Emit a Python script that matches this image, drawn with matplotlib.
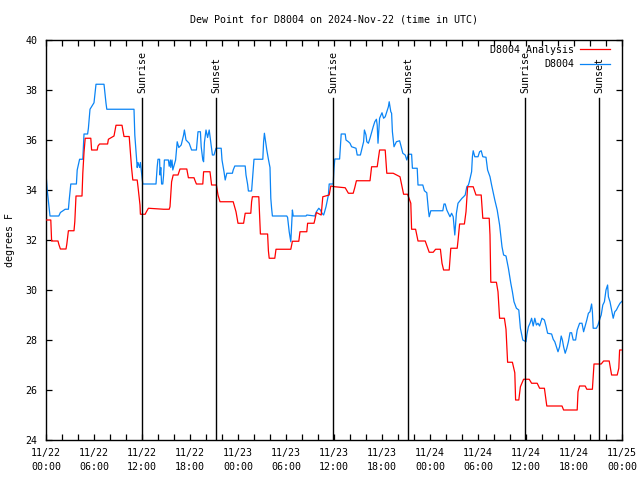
import numpy as np
import matplotlib.pyplot as plt
from matplotlib.ticker import MultipleLocator
import matplotlib.transforms as mtransforms

# Time in hours since 2024-11-22 00:00 UTC, dew point in deg F
analysis_hours = [0.0, 0.6, 0.7, 1.5, 1.6, 1.8, 2.5, 2.6, 2.8, 3.5, 3.6, 3.75, 4.5, 4.6, 4.75, 4.9,
                  5.6, 5.7, 6.4, 6.5, 6.7, 7.7, 7.8, 8.5, 8.75, 9.5, 9.6, 9.75, 10.4, 10.5, 10.7, 10.85,
                  11.4, 11.5, 11.75, 11.8, 12.4, 12.5, 12.8, 14.7, 15.4, 15.5, 15.7, 15.9, 16.5, 16.75,
                  17.6, 17.8, 18.5, 18.6, 18.8, 19.6, 19.7, 20.5, 20.7, 21.3, 21.5, 21.75, 23.4, 23.75,
                  24.0, 24.7, 24.9, 25.6, 25.7, 25.8, 26.6, 26.75, 26.8, 27.7, 27.8, 27.9, 28.6, 28.75,
                  30.6, 30.8, 31.6, 31.75, 32.6, 32.7, 33.5, 33.6, 33.8, 34.4, 34.6, 35.4, 35.6, 36.1,
                  37.4, 37.8, 38.4, 38.6, 38.8, 40.5, 40.7, 41.4, 41.7, 42.4, 42.6, 43.4, 44.25, 44.6,
                  44.7, 45.2, 45.6, 45.7, 46.2, 46.5, 47.4, 47.7, 47.9, 48.4, 48.7, 49.3, 49.5, 49.7,
                  50.4, 50.6, 51.4, 51.5, 51.7, 52.3, 52.5, 52.7, 53.4, 53.75, 54.4, 54.6, 55.4, 55.5,
                  55.6, 56.3, 56.5, 56.7, 57.3, 57.5, 57.7, 58.3, 58.6, 58.7, 59.1, 59.3, 59.7, 60.4,
                  60.7, 61.4, 61.7, 62.3, 62.6, 64.5, 64.7, 66.4, 66.5, 66.7, 67.4, 67.6, 68.3, 68.5,
                  69.4, 69.7, 70.4, 70.7, 71.4, 71.6, 71.7, 72.0]
analysis_dewpt = [32.8, 32.8, 31.96, 31.96, 31.83, 31.64, 31.64, 31.83, 32.37, 32.37, 32.73, 33.76, 33.76, 34.67, 35.5, 36.07,
                  36.07, 35.6, 35.6, 35.76, 35.84, 35.84, 36.03, 36.16, 36.59, 36.59, 36.4, 36.14, 36.14, 35.71, 34.87, 34.4,
                  34.4, 34.13, 33.4, 33.03, 33.03, 33.1, 33.27, 33.23, 33.23, 33.33, 34.33, 34.6, 34.6, 34.84,
                  34.84, 34.49, 34.49, 34.4, 34.24, 34.24, 34.73, 34.73, 34.2, 34.2, 33.8, 33.53, 33.53, 33.13,
                  32.67, 32.67, 33.07, 33.07, 33.53, 33.73, 33.73, 32.6, 32.24, 32.24, 31.57, 31.27, 31.27, 31.63,
                  31.63, 31.95, 31.95, 32.33, 32.33, 32.67, 32.67, 32.8, 33.1, 33.0, 33.73, 33.8, 34.16, 34.13,
                  34.09, 33.87, 33.87, 34.1, 34.37, 34.37, 34.93, 34.93, 35.6, 35.6, 34.67, 34.67, 34.53, 34.0,
                  33.83, 33.83, 33.47, 32.43, 32.43, 31.96, 31.96, 31.69, 31.51, 31.51, 31.63, 31.63, 31.07, 30.8,
                  30.8, 31.67, 31.67, 31.97, 32.64, 32.64, 33.13, 34.13, 34.13, 33.8, 33.8, 32.87, 32.87, 32.2,
                  30.31, 30.31, 29.93, 28.87, 28.87, 28.43, 27.11, 27.11, 26.69, 25.6, 25.6, 26.13, 26.43, 26.43,
                  26.27, 26.27, 26.07, 26.07, 25.36, 25.36, 25.2, 25.2, 25.93, 26.16, 26.16, 26.03, 26.03, 27.04,
                  27.04, 27.16, 27.16, 26.6, 26.6, 26.87, 27.6, 27.6]

station_hours = [0.0, 0.15, 0.5, 1.6, 1.8, 2.4, 2.8, 2.9, 3.1, 3.8, 3.9, 4.2, 4.6, 4.75, 5.2, 5.3, 5.5, 6.0, 6.25,
                 7.25, 7.5, 7.6, 11.0, 11.1, 11.3, 11.4, 11.5, 11.7, 11.8, 12.0, 12.1, 13.75, 13.9, 14.0, 14.2,
                 14.25, 14.35, 14.45, 14.6, 14.7, 14.8, 15.3, 15.4, 15.55, 15.6, 15.75, 15.85, 16.2, 16.4, 16.6,
                 16.9, 17.2, 17.3, 17.5, 17.9, 18.2, 18.8, 19.0, 19.3, 19.4, 19.6, 19.7, 19.8, 20.0, 20.2, 20.4,
                 20.6, 20.8, 21.0, 21.25, 21.9, 22.0, 22.25, 22.4, 22.6, 23.3, 23.4, 23.6, 24.9, 25.0, 25.2, 25.3,
                 25.7, 25.85, 26.0, 27.1, 27.2, 27.3, 27.45, 27.6, 27.8, 28.0, 28.1, 28.2, 28.3, 30.1, 30.2, 30.4,
                 30.6, 30.7, 30.8, 30.9, 32.5, 32.6, 33.6, 33.8, 34.1, 34.3, 34.5, 34.7, 34.8, 35.0, 35.3, 35.4,
                 35.9, 36.0, 36.1, 36.7, 36.8, 36.9, 37.4, 37.5, 37.8, 38.0, 38.2, 38.75, 38.9, 39.3, 39.5, 39.7,
                 39.8, 40.0, 40.1, 40.3, 40.5, 40.9, 41.1, 41.3, 41.4, 41.5, 41.7, 42.0, 42.2, 42.4, 42.6, 42.8,
                 42.9, 43.1, 43.2, 43.3, 43.5, 43.8, 44.2, 44.4, 44.6, 44.9, 45.1, 45.3, 45.7, 45.8, 46.4, 46.5,
                 47.1, 47.3, 47.6, 47.8, 47.9, 48.1, 49.6, 49.75, 49.9, 50.1, 50.3, 50.5, 50.7, 50.9, 51.1, 51.3,
                 51.5, 52.0, 52.2, 52.4, 52.6, 52.8, 52.9, 53.2, 53.3, 53.4, 53.6, 54.0, 54.2, 54.4, 54.6, 55.0,
                 55.2, 55.5, 55.7, 56.1, 56.4, 56.7, 57.0, 57.2, 57.5, 57.8, 58.1, 58.3, 58.5, 58.8, 59.1, 59.3,
                 59.6, 60.0, 60.1, 60.3, 60.5, 60.7, 60.9, 61.1, 61.3, 61.5, 61.7, 62.0, 62.3, 62.5, 62.7, 63.2,
                 63.4, 63.6, 63.8, 64.0, 64.2, 64.4, 64.55, 64.7, 64.9, 65.1, 65.3, 65.5, 65.7, 65.9, 66.2, 66.4,
                 66.7, 67.0, 67.2, 67.4, 67.6, 67.8, 68.0, 68.2, 68.3, 68.4, 68.8, 69.0, 69.25, 69.4, 69.6, 69.8,
                 70.0, 70.2, 70.3, 70.5, 70.7, 70.9, 71.1, 71.3, 71.5, 71.75, 72.0]
station_dewpt = [34.67, 34.0, 32.96, 32.96, 33.1, 33.23, 33.23, 33.6, 34.24, 34.24, 34.8, 35.23, 35.23, 36.24, 36.24, 36.47, 37.23, 37.49, 38.23,
                 38.23, 37.47, 37.23, 37.23, 36.2, 35.33, 34.9, 35.1, 34.9, 35.1, 34.5, 34.24, 34.24, 34.93, 35.23, 35.23,
                 34.6, 34.9, 34.24, 34.24, 34.6, 35.2, 35.2, 34.95, 35.2, 34.9, 35.2, 34.8, 35.2, 35.93, 35.7,
                 35.8, 36.2, 36.4, 36.0, 35.87, 35.6, 35.6, 36.33, 36.33, 35.73, 35.2, 35.13, 35.9, 36.4, 36.1, 36.4,
                 35.9, 35.4, 35.4, 35.67, 35.67, 35.2, 34.73, 34.4, 34.67, 34.67, 34.8, 34.96, 34.96, 34.6, 34.23, 33.96,
                 33.96, 34.6, 35.23, 35.23, 35.93, 36.27, 35.93, 35.6, 35.23, 34.9, 33.67, 33.27, 32.96, 32.96, 32.9, 32.33,
                 31.93, 32.6, 33.2, 32.96, 32.96, 33.0, 32.96, 33.13, 33.27, 33.2, 33.07, 33.0, 33.1, 33.33, 33.8, 34.24,
                 34.24, 34.87, 35.24, 35.24, 35.73, 36.24, 36.24, 36.0, 35.93, 35.87, 35.73, 35.67, 35.4, 35.4, 35.67, 35.93,
                 36.4, 36.2, 35.93, 35.87, 36.07, 36.53, 36.73, 36.83, 36.6, 35.87, 36.87, 37.09, 36.87, 36.93, 37.13, 37.33,
                 37.53, 37.13, 37.07, 36.33, 35.73, 35.93, 35.97, 35.73, 35.47, 35.4, 35.2, 35.43, 35.43, 34.87, 34.87, 34.2,
                 34.2, 33.97, 33.89, 33.2, 32.93, 33.17, 33.17, 33.44, 33.44, 33.2, 33.07, 32.93, 33.07, 32.93, 32.2, 33.07,
                 33.47, 33.67, 33.73, 33.8, 34.13, 34.2, 34.31, 34.73, 35.33, 35.57, 35.33, 35.33, 35.53, 35.57, 35.33, 35.31,
                 34.8, 34.53, 34.2, 33.6, 33.2, 32.6, 31.73, 31.4, 31.36, 30.87, 30.27, 29.93, 29.53, 29.27, 29.2, 28.47,
                 28.0, 27.93, 28.2, 28.53, 28.67, 28.87, 28.56, 28.87, 28.6, 28.67, 28.56, 28.87, 28.8, 28.56, 28.27, 28.24,
                 28.03, 27.93, 27.73, 27.53, 27.73, 28.16, 28.0, 27.73, 27.47, 27.67, 27.93, 28.29, 28.29, 28.0, 28.0, 28.4,
                 28.67, 28.67, 28.33, 28.56, 28.8, 29.07, 29.13, 29.44, 29.13, 28.47, 28.47, 28.6, 28.87, 29.0, 29.4, 29.53,
                 30.0, 30.2, 29.73, 29.53, 29.2, 28.87, 29.13, 29.2, 29.33, 29.47, 29.55]

sun_hours = [12.0, 21.25, 35.875, 45.25, 59.875, 69.125]
sun_labels = ['Sunrise', 'Sunset', 'Sunrise', 'Sunset', 'Sunrise', 'Sunset']

xtick_hours = list(range(0, 73, 6))
xtick_labels = ['11/22\n00:00', '11/22\n06:00', '11/22\n12:00', '11/22\n18:00',
                '11/23\n00:00', '11/23\n06:00', '11/23\n12:00', '11/23\n18:00',
                '11/24\n00:00', '11/24\n06:00', '11/24\n12:00', '11/24\n18:00',
                '11/25\n00:00']

plt.rcParams['font.family'] = 'DejaVu Sans Mono'
plt.rcParams['font.size'] = 7.2

fig = plt.figure(figsize=(6.4, 4.8), dpi=100)
ax = fig.add_axes([46 / 640, 40 / 480, 576 / 640, 400 / 480])

ax.plot(analysis_hours, analysis_dewpt, color='#ff0000', lw=0.9, label='D8004 Analysis', zorder=3)
ax.plot(station_hours, station_dewpt, color='#0a84f5', lw=0.9, label='D8004', zorder=2)

# sunrise / sunset markers
trans = mtransforms.blended_transform_factory(ax.transData, ax.transAxes)
for h, lab in zip(sun_hours, sun_labels):
    ax.plot([h, h], [0, 0.855], color='black', lw=1.0, transform=trans, zorder=4)
    ax.text(h + 0.1, 0.868, lab, rotation=90, ha='center', va='bottom', transform=trans)

ax.set_xlim(0, 72)
ax.set_ylim(24, 40)
ax.set_xticks(xtick_hours)
ax.set_xticklabels(xtick_labels, linespacing=1.45)
ax.xaxis.set_minor_locator(MultipleLocator(2))
ax.yaxis.set_major_locator(MultipleLocator(2))

for side in ['top', 'bottom', 'left', 'right']:
    ax.spines[side].set_linewidth(1.0)
ax.tick_params(which='both', direction='in', top=True, right=True, length=4, width=0.9)
ax.tick_params(axis='x', which='major', pad=6)
ax.tick_params(axis='y', which='major', pad=6)

ax.legend(loc='upper right', bbox_to_anchor=(0.985, 0.995), markerfirst=False, frameon=False,
          handlelength=3.0, handletextpad=0.6, labelspacing=0.45, borderaxespad=0.0, borderpad=0.3)

fig.text(334 / 640, 1 - 20 / 480, 'Dew Point for D8004 on 2024-Nov-22 (time in UTC)',
         ha='center', va='center')
fig.text(10 / 640, 0.5, 'degrees F', rotation=90, ha='center', va='center')

fig.savefig('out.png', dpi=100)
